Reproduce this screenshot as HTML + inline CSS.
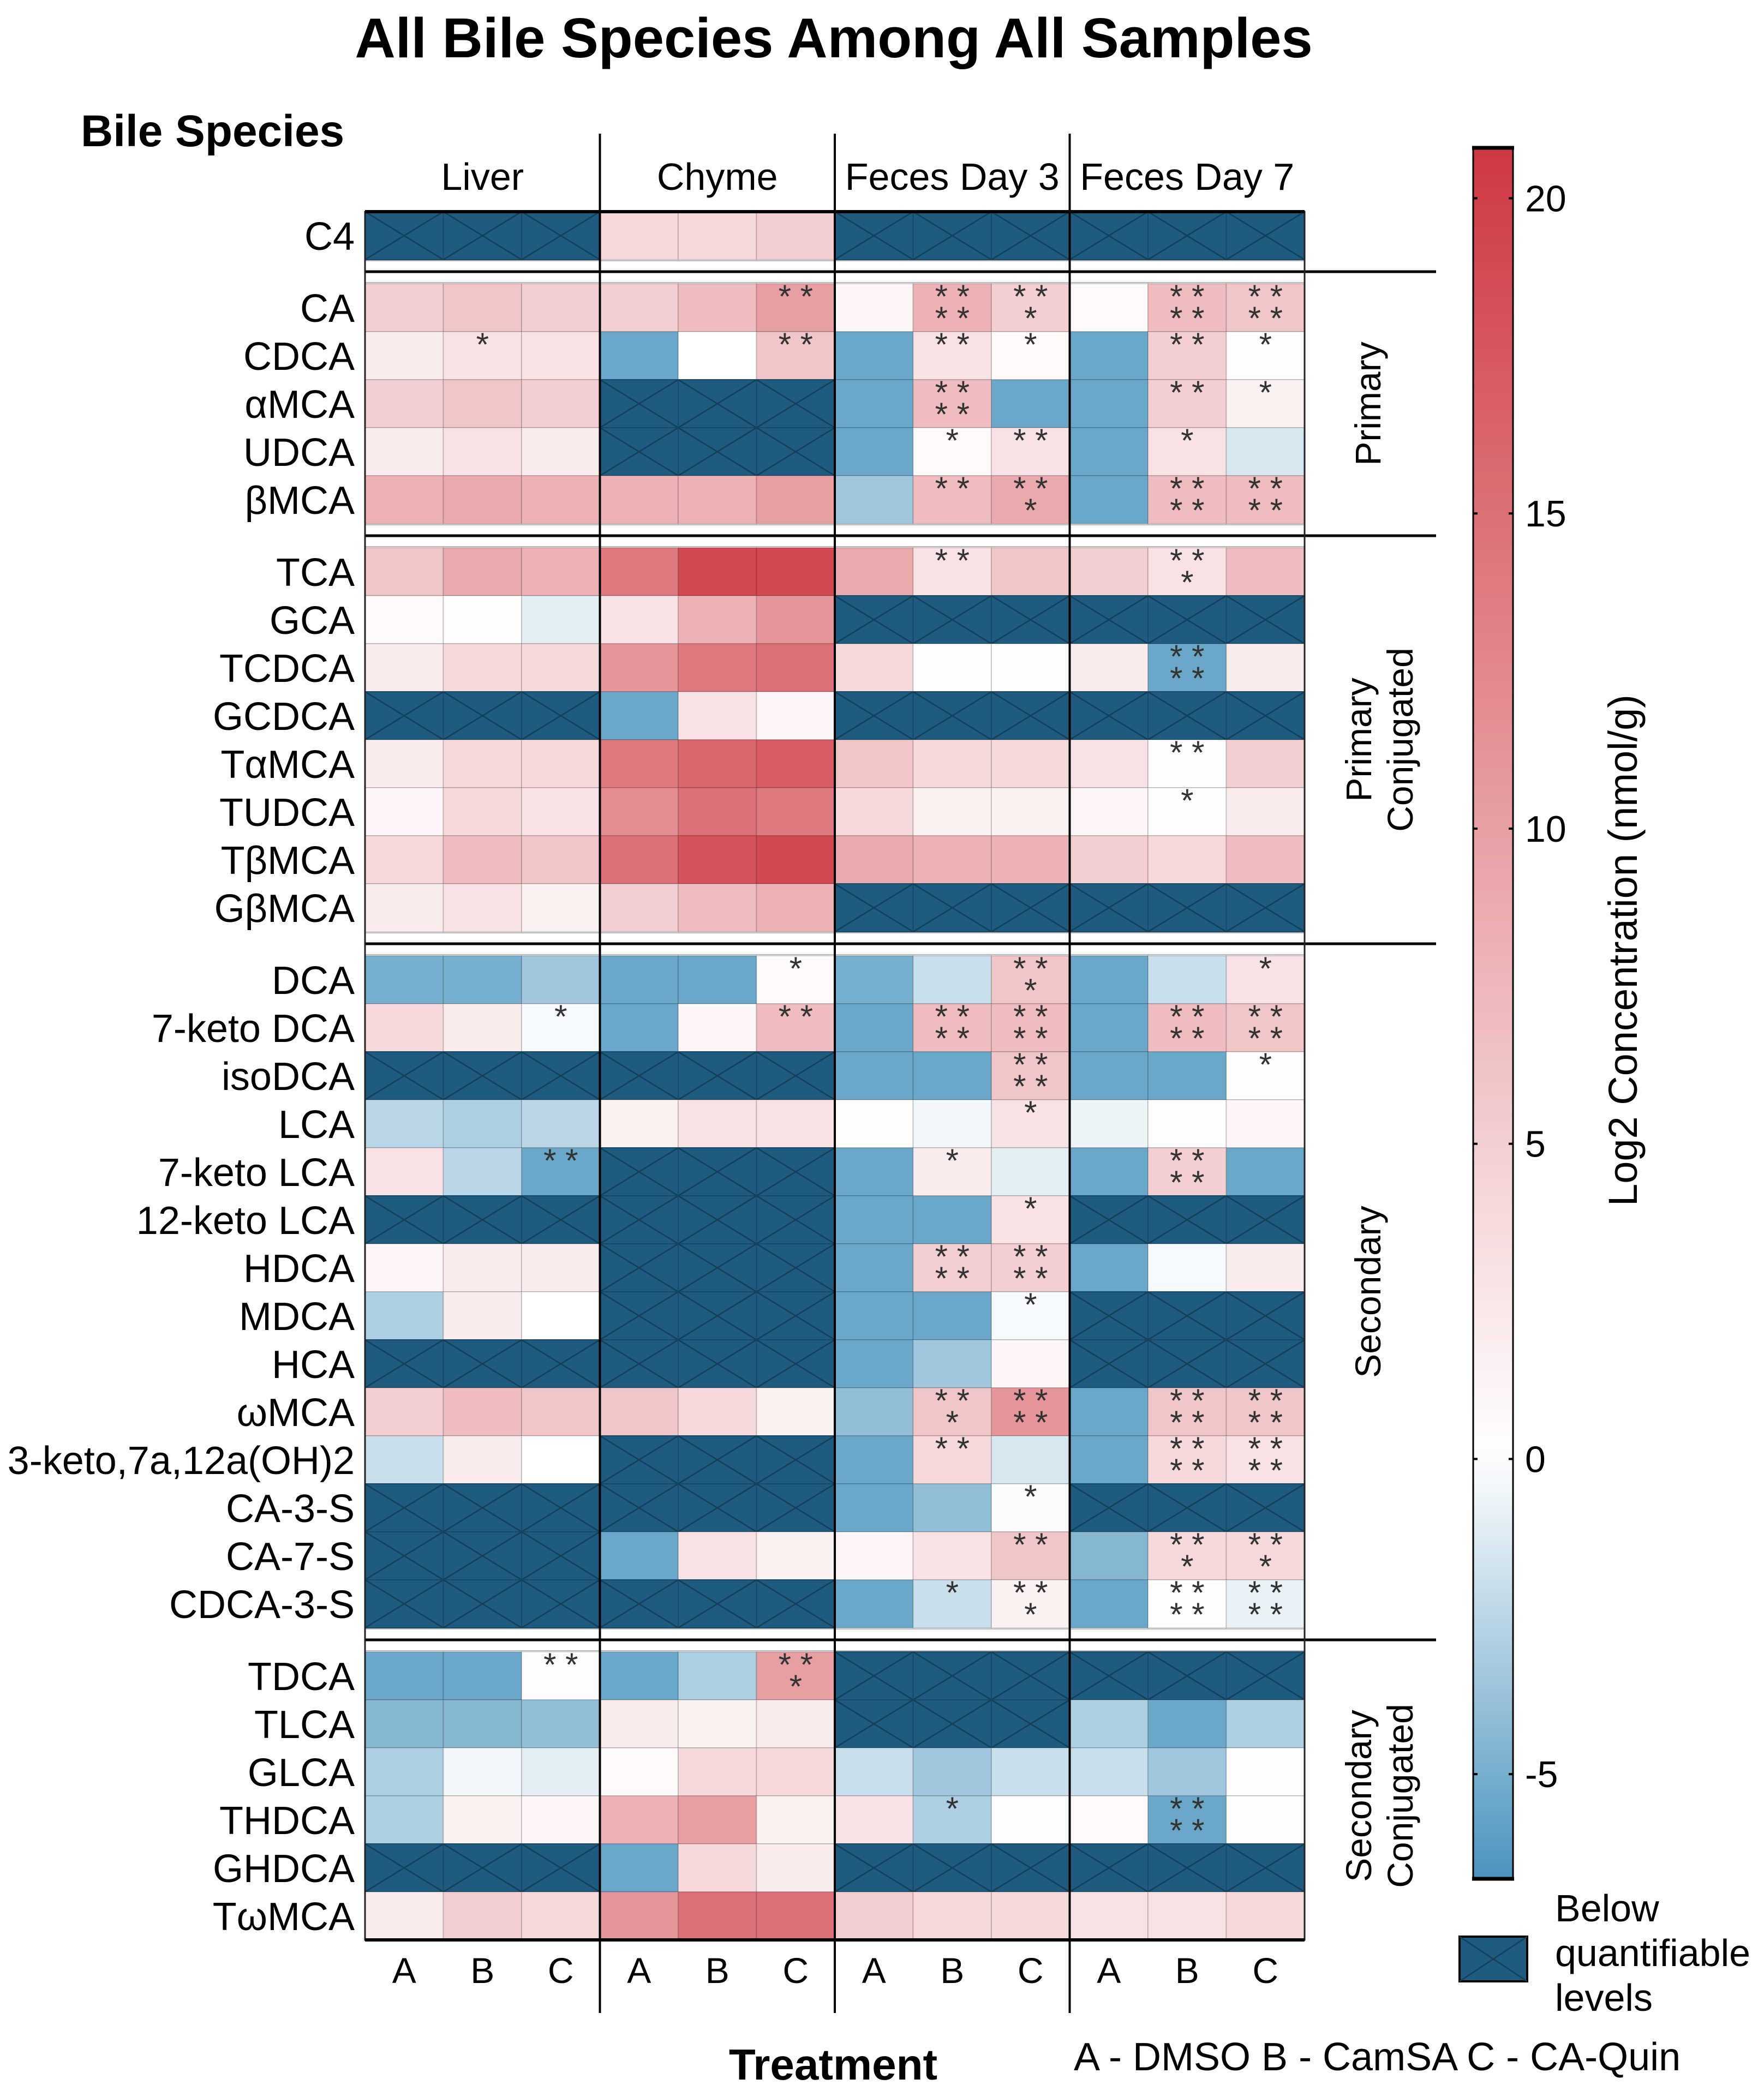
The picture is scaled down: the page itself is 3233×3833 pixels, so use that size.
<!DOCTYPE html>
<html><head><meta charset="utf-8"><style>
html,body{margin:0;padding:0;background:#fff}
svg{display:block}
text{font-family:"Liberation Sans",sans-serif}
</style></head><body>
<svg id="chart" width="3233" height="3833" viewBox="0 0 3233 3833" xmlns="http://www.w3.org/2000/svg">
<defs><linearGradient id="cbgrad" x1="0" y1="0" x2="0" y2="1"></linearGradient></defs>
<text x="1528" y="105" font-size="103" font-weight="bold" text-anchor="middle">All Bile Species Among All Samples</text>
<text x="148" y="268" font-size="82" font-weight="bold">Bile Species</text>
<text x="1527" y="3812" font-size="80" font-weight="bold" text-anchor="middle">Treatment</text>
<text x="1968" y="3795" font-size="72">A - DMSO  B - CamSA  C - CA-Quin</text>
<g id="cells"></g>
<g id="overlay"></g>
</svg>
<script>
const groups = ["Liver","Chyme","Feces Day 3","Feces Day 7"];
const treatments = ["A","B","C"];
const sectionNames = [["",""],["Primary",""],["Primary","Conjugated"],["Secondary",""],["Secondary","Conjugated"]];
const sectionSizes = [1,5,8,14,6];
const species = ["C4","CA","CDCA","αMCA","UDCA","βMCA","TCA","GCA","TCDCA","GCDCA","TαMCA","TUDCA","TβMCA","GβMCA","DCA","7-keto DCA","isoDCA","LCA","7-keto LCA","12-keto LCA","HDCA","MDCA","HCA","ωMCA","3-keto,7a,12a(OH)2","CA-3-S","CA-7-S","CDCA-3-S","TDCA","TLCA","GLCA","THDCA","GHDCA","TωMCA"];
const N = null;
const values = [
[N,N,N, 4,4,5, N,N,N, N,N,N],
[5,6,5, 5,7,10, 1,8,5, 0.5,7,6],
[2,3,3, -5.5,0,6, -5.5,3,0.5, -5.5,5,0.3],
[5,6,5, N,N,N, -5.5,7,-5.5, -5.5,5,1.5],
[2,3,2, N,N,N, -5.5,0.5,3, -5.5,3,-1.5],
[8,9,8, 8,8,10, -3.5,7,9, -5.5,7,7],
[6,9,8, 14,19,19, 9,3,6, 5,3,7],
[0.5,0.2,-1, 3,8,11, N,N,N, N,N,N],
[2,4,4, 11,14,15, 4,0.2,0.2, 2,-5.5,2],
[N,N,N, -5.5,3,1, N,N,N, N,N,N],
[2,4,4, 14,16,17, 6,4,4, 3,0.2,5],
[1,4,3, 12,15,14, 4,1.5,1.5, 1,0.2,2],
[4,7,6, 15,18,19, 9,8,8, 5,4,7],
[2,3,1.5, 5,7,8, N,N,N, N,N,N],
[-5,-5,-3.5, -5.5,-5.5,0.5, -5,-2,6, -5.5,-2,3],
[4,2,-0.3, -5.5,1,7, -5.5,7,7, -5.5,7,6],
[N,N,N, N,N,N, -5.5,-5.5,6, -5.5,-5.5,0.3],
[-2.5,-3,-2.5, 1.5,3,3, 0.2,-0.5,3, -0.7,0.2,1],
[3,-2.5,-5.5, N,N,N, -5.5,2,-1, -5.5,5,-5.5],
[N,N,N, N,N,N, -5.5,-5.5,3, N,N,N],
[1,2,2, N,N,N, -5.5,5,5, -5.5,-0.3,2],
[-3,2,0, N,N,N, -5.5,-5.5,-0.3, N,N,N],
[N,N,N, N,N,N, -5.5,-3.5,1, N,N,N],
[5,7,6, 6,4,1.5, -4,6,11, -5.5,6,6],
[-2,2,0, N,N,N, -5.5,4,-1.5, -5.5,4,3],
[N,N,N, N,N,N, -5.5,-4,-0.2, N,N,N],
[N,N,N, -5.5,3,1.5, 1,3,6, -4.5,4,4],
[N,N,N, N,N,N, -5.5,-2,1.5, -5.5,0.3,-0.8],
[-5.5,-5.5,0.3, -5.5,-3,10, N,N,N, N,N,N],
[-4.5,-4.5,-4, 2,1.5,2, N,N,N, -3,-5.5,-3],
[-3,-0.5,-1, 0.5,4,4, -2,-3.5,-2, -2,-3.5,0.3],
[-3,1.5,1, 8,10,1.5, 3,-3,0.3, 0.5,-5.5,0.3],
[N,N,N, -5.5,4,2, N,N,N, N,N,N],
[2,5,4, 11,15,15, 5,4,4, 3,3,4]
];
const stars = [
[0,0,0,0,0,0,0,0,0,0,0,0],
[0,0,0,0,0,2,0,4,3,0,4,4],
[0,1,0,0,0,2,0,2,1,0,2,1],
[0,0,0,0,0,0,0,4,0,0,2,1],
[0,0,0,0,0,0,0,1,2,0,1,0],
[0,0,0,0,0,0,0,2,3,0,4,4],
[0,0,0,0,0,0,0,2,0,0,3,0],
[0,0,0,0,0,0,0,0,0,0,0,0],
[0,0,0,0,0,0,0,0,0,0,4,0],
[0,0,0,0,0,0,0,0,0,0,0,0],
[0,0,0,0,0,0,0,0,0,0,2,0],
[0,0,0,0,0,0,0,0,0,0,1,0],
[0,0,0,0,0,0,0,0,0,0,0,0],
[0,0,0,0,0,0,0,0,0,0,0,0],
[0,0,0,0,0,1,0,0,3,0,0,1],
[0,0,1,0,0,2,0,4,4,0,4,4],
[0,0,0,0,0,0,0,0,4,0,0,1],
[0,0,0,0,0,0,0,0,1,0,0,0],
[0,0,2,0,0,0,0,1,0,0,4,0],
[0,0,0,0,0,0,0,0,1,0,0,0],
[0,0,0,0,0,0,0,4,4,0,0,0],
[0,0,0,0,0,0,0,0,1,0,0,0],
[0,0,0,0,0,0,0,0,0,0,0,0],
[0,0,0,0,0,0,0,3,4,0,4,4],
[0,0,0,0,0,0,0,2,0,0,4,4],
[0,0,0,0,0,0,0,0,1,0,0,0],
[0,0,0,0,0,0,0,0,2,0,3,3],
[0,0,0,0,0,0,0,1,3,0,4,4],
[0,0,2,0,0,3,0,0,0,0,0,0],
[0,0,0,0,0,0,0,0,0,0,0,0],
[0,0,0,0,0,0,0,0,0,0,0,0],
[0,0,0,0,0,0,0,1,0,0,4,0],
[0,0,0,0,0,0,0,0,0,0,0,0],
[0,0,0,0,0,0,0,0,0,0,0,0]
];
const cbTicks = [20,15,10,5,0,-5];
const vmax = 20.8, vmin = -6.66;

const NS = "http://www.w3.org/2000/svg";
const svg = document.getElementById('chart');
const cellsG = document.getElementById('cells');
const ov = document.getElementById('overlay');
function mk(tag, attrs, parent){const e=document.createElementNS(NS,tag);for(const k in attrs)e.setAttribute(k,attrs[k]);(parent||svg).appendChild(e);return e;}
const X0=669, CW=143.5, RH=88, GAP=44, Y0=388;
const xScale = c => X0 + c*CW;
const rowY=[]; const secBounds=[];
(function(){let y=Y0;sectionSizes.forEach((n,s)=>{const st=y;for(let i=0;i<n;i++){rowY.push(y);y+=RH;}secBounds.push([st,y]);y+=GAP;});})();
const RED=[207,56,66], BLUE=[74,148,190];
function color(v){let t,c;if(v>=0){t=Math.min(v/vmax,1);c=RED;}else{t=Math.min(-v/(-vmin),1);c=BLUE;}
 return `rgb(${Math.round(255+(c[0]-255)*t)},${Math.round(255+(c[1]-255)*t)},${Math.round(255+(c[2]-255)*t)})`;}

species.forEach((sp,r)=>{
 const y=rowY[r];
 const lab=mk('text',{x:650,y:y+RH/2+26,'font-size':72,'text-anchor':'end'});
 lab.textContent=sp;
 
 
 values[r].forEach((v,c)=>{
  const x=xScale(c);
  const rect=mk('rect',{x:x,y:y,width:CW,height:RH,fill:v===null?'#1e5b7f':color(v),stroke:v===null?'#184a68':'rgba(0,0,0,0.15)','stroke-width':2},cellsG);
  
  
  if(v===null){
   mk('line',{x1:x,y1:y,x2:x+CW,y2:y+RH,stroke:'#153f59','stroke-width':2.5},cellsG);
   mk('line',{x1:x+CW,y1:y,x2:x,y2:y+RH,stroke:'#153f59','stroke-width':2.5},cellsG);
  }
  const s=stars[r][c];
  if(s){
   const l1=s>=2?'* *':'*', l2=s===3?'*':(s===4?'* *':'');
   const t1=mk('text',{x:x+CW/2,y:y+44,'font-size':60,'text-anchor':'middle',fill:'#333'},cellsG);
   t1.textContent=l1;
   
   
   if(l2){const t2=mk('text',{x:x+CW/2,y:y+84,'font-size':60,'text-anchor':'middle',fill:'#333'},cellsG);t2.textContent=l2;
   
   }
  }
 });
});
secBounds.forEach((b,s)=>{
 if(s>0){const ym=b[0]-GAP/2;
  mk('line',{x1:X0,y1:ym,x2:2632,y2:ym,stroke:'#000','stroke-width':5},ov);
  mk('line',{x1:X0,y1:b[0]-GAP+2,x2:X0+12*CW,y2:b[0]-GAP+2,stroke:'#bbb','stroke-width':2},ov);
  mk('line',{x1:X0,y1:b[0]-2,x2:X0+12*CW,y2:b[0]-2,stroke:'#bbb','stroke-width':2},ov);
 }
 const nm=sectionNames[s]; if(!nm[0])return;
 const cy=(b[0]+b[1])/2;
 const t=mk('text',{transform:`translate(2525,${cy}) rotate(-90)`,'font-size':66,'text-anchor':'middle'},ov);
 
 
 if(nm[1]){const a=mk('tspan',{x:0,y:-12},t);a.textContent=nm[0];const bb=mk('tspan',{x:0,y:64},t);bb.textContent=nm[1];}
 else{t.setAttribute('y',0);t.textContent=nm[0];t.setAttribute('transform',`translate(2530,${cy}) rotate(-90)`);}
});
const yEnd=secBounds[secBounds.length-1][1];
mk('rect',{x:X0,y:Y0,width:12*CW,height:yEnd-Y0,fill:'none',stroke:'#222','stroke-width':3},ov);
mk('line',{x1:X0,y1:Y0,x2:X0+12*CW,y2:Y0,stroke:'#000','stroke-width':6},ov);
mk('line',{x1:X0,y1:yEnd,x2:X0+12*CW,y2:yEnd,stroke:'#000','stroke-width':6},ov);
groups.forEach((g,i)=>{
 if(i>0) mk('line',{x1:xScale(i*3),y1:245,x2:xScale(i*3),y2:3690,stroke:'#000','stroke-width':4},ov);
 const t=mk('text',{x:xScale(i*3)+1.5*CW,y:348,'font-size':70,'text-anchor':'middle'},ov);
 t.textContent=g;
 
 
 treatments.forEach((tr,j)=>{
  const tt=mk('text',{x:xScale(i*3+j)+CW/2,y:3635,'font-size':66,'text-anchor':'middle'},ov);
  tt.textContent=tr;
  
  
 });
});
const CBX=2700, CBW=73, CBT=271, CBB=3444;
const cbY = v => CBT + (vmax - v)/(vmax - vmin)*(CBB-CBT);
const grad=document.getElementById('cbgrad');
for(let k=0;k<=40;k++){const v=vmax-(vmax-vmin)*k/40;mk('stop',{offset:(k/40),'stop-color':color(v)},grad);}
const cb=mk('rect',{x:CBX,y:CBT,width:CBW,height:CBB-CBT,fill:'url(#cbgrad)',stroke:'#000','stroke-width':3});


mk('line',{x1:CBX-2,y1:CBT,x2:CBX+CBW+2,y2:CBT,stroke:'#000','stroke-width':7});
mk('line',{x1:CBX-2,y1:CBB,x2:CBX+CBW+2,y2:CBB,stroke:'#000','stroke-width':7});
cbTicks.forEach(v=>{
 const y=cbY(v);
 mk('line',{x1:CBX,y1:y,x2:CBX+8,y2:y,stroke:'#000','stroke-width':4});
 mk('line',{x1:CBX+CBW-8,y1:y,x2:CBX+CBW,y2:y,stroke:'#000','stroke-width':4});
 const t=mk('text',{x:CBX+CBW+22,y:y+24,'font-size':68});
 t.textContent=String(v);
 
 
});
const cbt=mk('text',{transform:'translate(3000,1742) rotate(-90)','font-size':74,'text-anchor':'middle'});
cbt.textContent='Log2 Concentration (nmol/g)';


const lg=mk('rect',{x:2675,y:3550,width:124,height:82,fill:'#1e5b7f',stroke:'#000','stroke-width':4});


mk('line',{x1:2675,y1:3550,x2:2799,y2:3632,stroke:'#153f59','stroke-width':2.5});
mk('line',{x1:2799,y1:3550,x2:2675,y2:3632,stroke:'#153f59','stroke-width':2.5});
[['Below',3522],['quantifiable',3604],['levels',3686]].forEach(([s,y])=>{
 const t=mk('text',{x:2850,y:y,'font-size':70});t.textContent=s;
 
 
});
</script>
</body></html>
